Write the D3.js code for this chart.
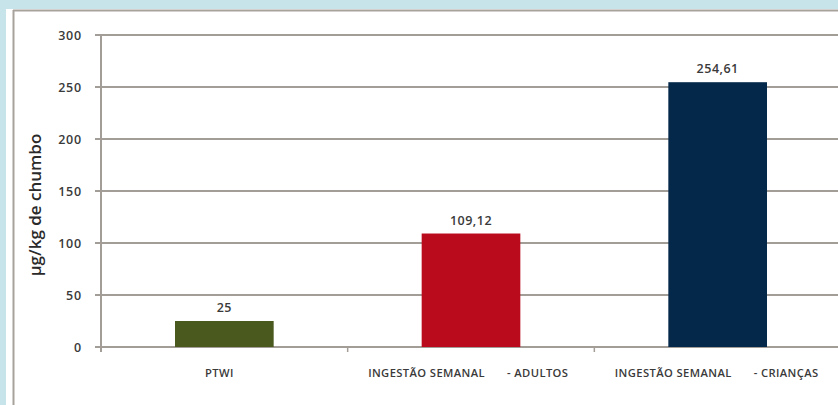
<!DOCTYPE html>
<html>
<head>
<meta charset="utf-8">
<script src="https://cdn.jsdelivr.net/npm/d3@7"></script>
<style>
  html, body { margin: 0; padding: 0; background: #c8e4eb; }
  svg { display: block; }
</style>
</head>
<body>
<svg id="chart" width="838" height="405"></svg>
<script>
const categories = ["PTWI", "INGESTÃO SEMANAL - ADULTOS", "INGESTÃO SEMANAL - CRIANÇAS"];
const values = [25, 109.12, 254.61];
const valueLabels = ["25", "109,12", "254,61"];
const barColors = ["#4a5a1e", "#ba0b1c", "#03284a"];
const yTicks = [0, 50, 100, 150, 200, 250, 300];
const yTitle = "µg/kg de chumbo";

const svg = d3.select("#chart");
const W = 838, H = 405;
const font = "'Open Sans', 'DejaVu Sans', sans-serif";
const textColor = "#3a3a3a";

// panel
svg.append("rect").attr("x", 6).attr("y", 9).attr("width", W - 6).attr("height", H - 9).attr("fill", "#ffffff");
svg.append("line").attr("x1", 13.5).attr("x2", 13.5).attr("y1", 10).attr("y2", H).attr("stroke", "#a8a29c").attr("stroke-width", 2);
svg.append("line").attr("x1", 13).attr("x2", W).attr("y1", 10.5).attr("y2", 10.5).attr("stroke", "#a8a29c").attr("stroke-width", 2);

const plot = { left: 101, right: 841, top: 35, bottom: 347 };
const x = d3.scaleBand().domain(categories).range([plot.left, plot.right]).paddingInner(0.6).paddingOuter(0.3);
const y = d3.scaleLinear().domain([0, 300]).range([plot.bottom, plot.top]);

// gridlines
svg.append("g").selectAll("line").data(yTicks).join("line")
  .attr("x1", 95).attr("x2", W)
  .attr("y1", d => y(d)).attr("y2", d => y(d))
  .attr("stroke", "#a39d97").attr("stroke-width", 2);

// y tick labels
svg.append("g").selectAll("text").data(yTicks).join("text")
  .attr("x", 82).attr("y", d => y(d)).attr("dy", "0.36em")
  .attr("text-anchor", "end").attr("font-family", font).attr("font-size", 12.5).attr("font-weight", 600)
  .attr("letter-spacing", 0.8)
  .attr("fill", textColor).text(d => d);

// y axis line
svg.append("line").attr("x1", plot.left).attr("x2", plot.left).attr("y1", y(300)).attr("y2", y(0) + 5)
  .attr("stroke", "#a39d97").attr("stroke-width", 2);

// category ticks
const step = x.step();
const bounds = [1, 2].map(i => plot.left + i * step);
svg.append("g").selectAll("line").data(bounds).join("line")
  .attr("x1", d => d).attr("x2", d => d).attr("y1", y(0)).attr("y2", y(0) + 5)
  .attr("stroke", "#a39d97").attr("stroke-width", 1.5);

// bars
svg.append("g").selectAll("rect").data(values).join("rect")
  .attr("x", (d, i) => x(categories[i]))
  .attr("width", x.bandwidth())
  .attr("y", d => y(d))
  .attr("height", d => y(0) - y(d))
  .attr("fill", (d, i) => barColors[i]);

// value labels
svg.append("g").selectAll("text").data(values).join("text")
  .attr("x", (d, i) => x(categories[i]) + x.bandwidth() / 2)
  .attr("y", d => y(d) - 9)
  .attr("text-anchor", "middle").attr("font-family", font).attr("font-size", 12.5).attr("font-weight", 600)
  .attr("letter-spacing", 0.5)
  .attr("fill", textColor).text((d, i) => valueLabels[i]);

// category labels (split at " - " like the original, with a wide gap)
const catG = svg.append("g").attr("font-family", font).attr("font-size", 11.2).attr("font-weight", 600)
  .attr("letter-spacing", 0.4).attr("fill", textColor);
categories.forEach(c => {
  const cx = x(c) + x.bandwidth() / 2;
  const parts = c.split(" - ");
  if (parts.length === 1) {
    catG.append("text").attr("x", cx - 5).attr("y", 377).attr("text-anchor", "middle").text(c);
  } else {
    catG.append("text").attr("x", cx + 14).attr("y", 377).attr("text-anchor", "end").text(parts[0]);
    catG.append("text").attr("x", cx + 36).attr("y", 377).attr("text-anchor", "start").text("- " + parts[1]);
  }
});

// y title
svg.append("text")
  .attr("transform", `translate(41, 205) rotate(-90)`)
  .attr("text-anchor", "middle").attr("font-family", font).attr("font-size", 17).attr("font-weight", 600)
  .attr("fill", "#2a2a2a").text(yTitle);
</script>
</body>
</html>
